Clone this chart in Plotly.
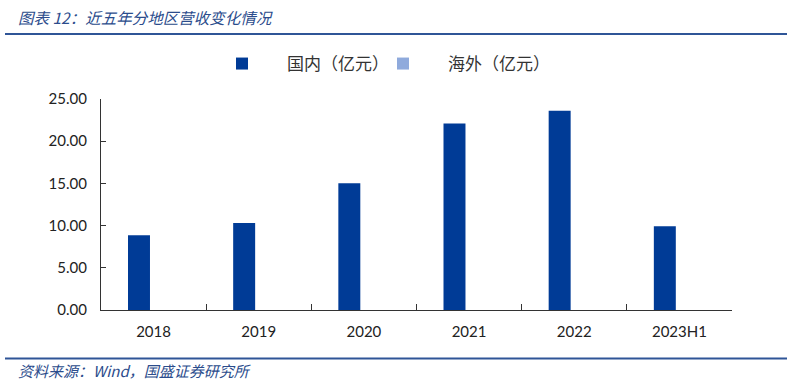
import plotly.graph_objects as go

categories = ["2018", "2019", "2020", "2021", "2022", "2023H1"]
domestic = [8.86, 10.32, 15.03, 22.1, 23.6, 9.93]
overseas = [0, 0, 0, 0, 0, 0]
y_ticks = [0, 5, 10, 15, 20, 25]
y_tick_labels = ["0.00", "5.00", "10.00", "15.00", "20.00", "25.00"]

W, H = 787, 383
L, R, T, B = 101, W - 732, 99, H - 310
pw, ph = W - L - R, H - T - B

def px_x(x):
    return (x - L) / pw

def px_y(y):
    return (H - B - y) / ph

fig = go.Figure()
fig.add_trace(go.Bar(x=categories, y=domestic, name="国内（亿元）", legend="legend",
                     marker=dict(color="#003B96", line=dict(width=0))))
fig.add_trace(go.Bar(x=categories, y=overseas, name="海外（亿元）", legend="legend2",
                     marker=dict(color="#8FAADC", line=dict(width=0))))

num_font = dict(family="Lato, Liberation Sans, sans-serif", size=15, color="#222222")
cjk = "Noto Sans CJK SC"
blue = "#2B4C8C"

leg_common = dict(orientation="h", yanchor="top", xanchor="left", y=px_y(46),
                  font=dict(family=cjk, size=17, color="#333333"),
                  itemwidth=80, bgcolor="rgba(0,0,0,0)")

fig.update_layout(
    width=W, height=H,
    margin=dict(l=L, r=R, t=T, b=B),
    paper_bgcolor="white", plot_bgcolor="white",
    barmode="group", bargap=0.445, bargroupgap=0.247,
    showlegend=True,
    legend=dict(x=px_x(197), **leg_common),
    legend2=dict(x=px_x(358), **leg_common),
    xaxis=dict(type="category", showline=True, linecolor="#333333", linewidth=1.3,
               ticks="inside", ticklen=6, tickcolor="#333333", tickson="boundaries",
               tickfont=num_font, showgrid=False, zeroline=False, mirror=False,
               ticklabelstandoff=8),
    yaxis=dict(range=[0, 25], tickvals=y_ticks, ticktext=y_tick_labels,
               showline=True, linecolor="#333333", linewidth=1.3,
               ticks="inside", ticklen=5, tickcolor="#333333",
               tickfont=num_font, showgrid=False, zeroline=False,
               ticklabelstandoff=10),
    font=dict(family=cjk),
)

fig.add_annotation(text="图表 12：近五年分地区营收变化情况", xref="paper", yref="paper",
                   x=px_x(16), y=px_y(17), xanchor="left", yanchor="middle", showarrow=False,
                   font=dict(family=cjk, size=15.5, color=blue, style="italic"))
fig.add_annotation(text="资料来源：Wind，国盛证券研究所", xref="paper", yref="paper",
                   x=px_x(16), y=px_y(370), xanchor="left", yanchor="middle", showarrow=False,
                   font=dict(family=cjk, size=15, color=blue, style="italic"))

fig.add_shape(type="line", xref="paper", yref="paper", x0=px_x(5), x1=px_x(787),
              y0=px_y(34), y1=px_y(34), line=dict(color="#2F5597", width=2))
fig.add_shape(type="line", xref="paper", yref="paper", x0=px_x(5), x1=px_x(787),
              y0=px_y(358.5), y1=px_y(358.5), line=dict(color="#2F5597", width=2))

fig.write_html("out.html", config={"displayModeBar": False},
               post_script="document.body.style.margin='0';")
